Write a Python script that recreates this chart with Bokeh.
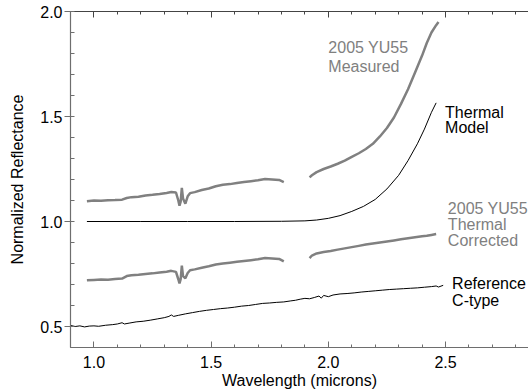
from bokeh.plotting import figure
from bokeh.models import (Range1d, LinearAxis, SingleIntervalTicker, PrintfTickFormatter,
                          CustomLabelingPolicy)
from bokeh.core.properties import value
from bokeh.embed import file_html
from bokeh.resources import INLINE

# ---- data ----
meas1_x = [0.97, 1.00, 1.03, 1.06, 1.09, 1.12, 1.14, 1.16, 1.19, 1.22, 1.25, 1.28, 1.31, 1.33,
           1.35, 1.36, 1.365, 1.37, 1.375, 1.38, 1.39, 1.40, 1.41, 1.43, 1.46, 1.49, 1.52, 1.55,
           1.58, 1.61, 1.64, 1.67, 1.70, 1.73, 1.76, 1.79, 1.81]
meas1_y = [1.097, 1.100, 1.099, 1.101, 1.102, 1.104, 1.112, 1.116, 1.118, 1.124, 1.127, 1.131, 1.136, 1.140,
           1.138, 1.100, 1.075, 1.095, 1.160, 1.110, 1.085, 1.120, 1.135, 1.140, 1.150, 1.157, 1.168, 1.175,
           1.178, 1.183, 1.188, 1.192, 1.196, 1.202, 1.200, 1.198, 1.188]
meas2_x = [1.92, 1.93, 1.95, 1.98, 2.01, 2.04, 2.07, 2.10, 2.13, 2.16, 2.19, 2.22, 2.25, 2.28,
           2.31, 2.34, 2.37, 2.40, 2.42, 2.44, 2.46, 2.47]
meas2_y = [1.210, 1.220, 1.235, 1.250, 1.262, 1.275, 1.290, 1.308, 1.325, 1.345, 1.370, 1.405, 1.445, 1.495,
           1.560, 1.630, 1.710, 1.790, 1.850, 1.900, 1.935, 1.950]

corr1_y = [0.720, 0.722, 0.724, 0.723, 0.726, 0.728, 0.740, 0.744, 0.746, 0.750, 0.753, 0.757, 0.761, 0.765,
           0.760, 0.725, 0.705, 0.725, 0.790, 0.740, 0.730, 0.755, 0.768, 0.772, 0.780, 0.787, 0.795, 0.800,
           0.804, 0.808, 0.812, 0.816, 0.820, 0.826, 0.824, 0.822, 0.810]
corr2_x = [1.92, 1.93, 1.95, 1.98, 2.01, 2.04, 2.07, 2.10, 2.13, 2.16, 2.19, 2.22, 2.25, 2.28,
           2.31, 2.34, 2.37, 2.40, 2.42, 2.44, 2.46]
corr2_y = [0.826, 0.838, 0.848, 0.855, 0.860, 0.866, 0.872, 0.878, 0.884, 0.890, 0.895, 0.900, 0.905, 0.910,
           0.915, 0.920, 0.925, 0.930, 0.932, 0.936, 0.940]

therm_x = [0.97, 1.2, 1.4, 1.6, 1.8, 1.9, 1.95, 2.0, 2.05, 2.10, 2.15, 2.20, 2.25, 2.30, 2.34, 2.38, 2.41, 2.44, 2.46]
therm_y = [1.0, 1.0, 1.0, 1.0, 1.001, 1.003, 1.007, 1.015, 1.028, 1.048, 1.072, 1.105, 1.155, 1.22, 1.29, 1.37,
           1.44, 1.52, 1.565]

ref_x = [0.90, 0.92, 0.94, 0.96, 0.98, 1.00, 1.02, 1.05, 1.08, 1.10, 1.12, 1.13, 1.15, 1.18, 1.21, 1.24,
         1.27, 1.30, 1.32, 1.33, 1.34, 1.36, 1.39, 1.42, 1.45, 1.48, 1.51, 1.54, 1.57, 1.60, 1.63, 1.66,
         1.69, 1.72, 1.75, 1.78, 1.81, 1.84, 1.86, 1.88, 1.90, 1.92, 1.94, 1.96, 1.97, 1.98, 2.00, 2.02,
         2.05, 2.08, 2.11, 2.14, 2.17, 2.20, 2.23, 2.26, 2.29, 2.32, 2.35, 2.38, 2.41, 2.44, 2.46, 2.47, 2.49]
ref_y = [0.505, 0.500, 0.503, 0.498, 0.502, 0.503, 0.501, 0.506, 0.509, 0.512, 0.518, 0.512, 0.516, 0.522,
         0.525, 0.530, 0.536, 0.542, 0.548, 0.555, 0.548, 0.553, 0.560, 0.566, 0.572, 0.577, 0.581, 0.585,
         0.588, 0.592, 0.597, 0.600, 0.605, 0.610, 0.612, 0.615, 0.617, 0.622, 0.625, 0.630, 0.634, 0.632,
         0.638, 0.645, 0.635, 0.648, 0.642, 0.650, 0.655, 0.657, 0.660, 0.664, 0.667, 0.670, 0.673, 0.676,
         0.678, 0.680, 0.682, 0.684, 0.687, 0.690, 0.693, 0.688, 0.696]

labels_gray = [("2005 YU55", 2.0, 1.827), ("Measured", 2.0, 1.74),
               ("2005 YU55", 2.51, 1.061), ("Thermal", 2.51, 0.984), ("Corrected", 2.51, 0.909)]
labels_black = [("Thermal", 2.498, 1.519), ("Model", 2.498, 1.447),
                ("Reference", 2.528, 0.705), ("C-type", 2.528, 0.625)]

GRAY = "#808080"
FONT = "Liberation Sans"

p = figure(width=528, height=391, output_backend="svg", toolbar_location=None,
           x_range=Range1d(0.9, 2.854), y_range=Range1d(0.4, 2.0),
           min_border_left=70, min_border_right=0, min_border_top=7, min_border_bottom=10)
p.outline_line_color = None
p.grid.visible = False
p.background_fill_color = "white"
p.border_fill_color = "white"

# lines
p.line(meas1_x, meas1_y, line_color=GRAY, line_width=2.5)
p.line(meas2_x, meas2_y, line_color=GRAY, line_width=2.5)
p.line(meas1_x, corr1_y, line_color=GRAY, line_width=2.5)
p.line(corr2_x, corr2_y, line_color=GRAY, line_width=2.5)
p.line(therm_x, therm_y, line_color="black", line_width=1)
p.line(ref_x, ref_y, line_color="black", line_width=1)

for txt, x, y in labels_gray:
    p.text(x=[x], y=[y], text=[txt], text_color=GRAY, text_font=value(FONT),
           text_font_size="16px", text_baseline="middle", text_align="left")
for txt, x, y in labels_black:
    p.text(x=[x], y=[y], text=[txt], text_color="black", text_font=value(FONT),
           text_font_size="16px", text_baseline="middle", text_align="left")

# axes
for ax in (p.xaxis[0], p.yaxis[0]):
    ax.ticker = SingleIntervalTicker(interval=0.5, num_minor_ticks=5)
    ax.formatter = PrintfTickFormatter(format="%.1f")
    ax.major_label_text_font = FONT
    ax.major_label_text_font_size = "16px"
    ax.major_label_text_color = "black"
    ax.axis_label_text_font = FONT
    ax.axis_label_text_font_size = "16px"
    ax.axis_label_text_font_style = "normal"
    ax.axis_label_text_color = "black"
    ax.axis_line_color = "#6e6e6e"
    ax.axis_line_width = 1.2
    ax.major_tick_line_color = "#6e6e6e"
    ax.minor_tick_line_color = "#6e6e6e"

p.xaxis.axis_label = "Wavelength (microns)"
p.xaxis.major_tick_in = 6
p.xaxis.major_tick_out = 0
p.xaxis.minor_tick_in = 3
p.xaxis.minor_tick_out = 0
p.xaxis.major_label_standoff = 8
p.xaxis.axis_label_standoff = 1

p.yaxis.axis_label = "Normalized Reflectance"
p.yaxis.major_tick_in = 0
p.yaxis.major_tick_out = 6
p.yaxis.minor_tick_in = 4
p.yaxis.minor_tick_out = 0
p.yaxis.major_label_standoff = 2
p.yaxis.axis_label_standoff = 11

hide_all = CustomLabelingPolicy(code="""
    for (const i of Array.from(indices)) { indices.unset(i) }
    return indices
""")
top = LinearAxis(ticker=SingleIntervalTicker(interval=0.5, num_minor_ticks=5),
                 major_label_policy=hide_all, major_label_standoff=0,
                 major_tick_in=6, major_tick_out=0, minor_tick_in=3, minor_tick_out=0,
                 axis_line_color="#444444", major_tick_line_color="#444444",
                 minor_tick_line_color="#444444")
p.add_layout(top, "above")

open("out.html", "w").write(file_html(p, INLINE))
